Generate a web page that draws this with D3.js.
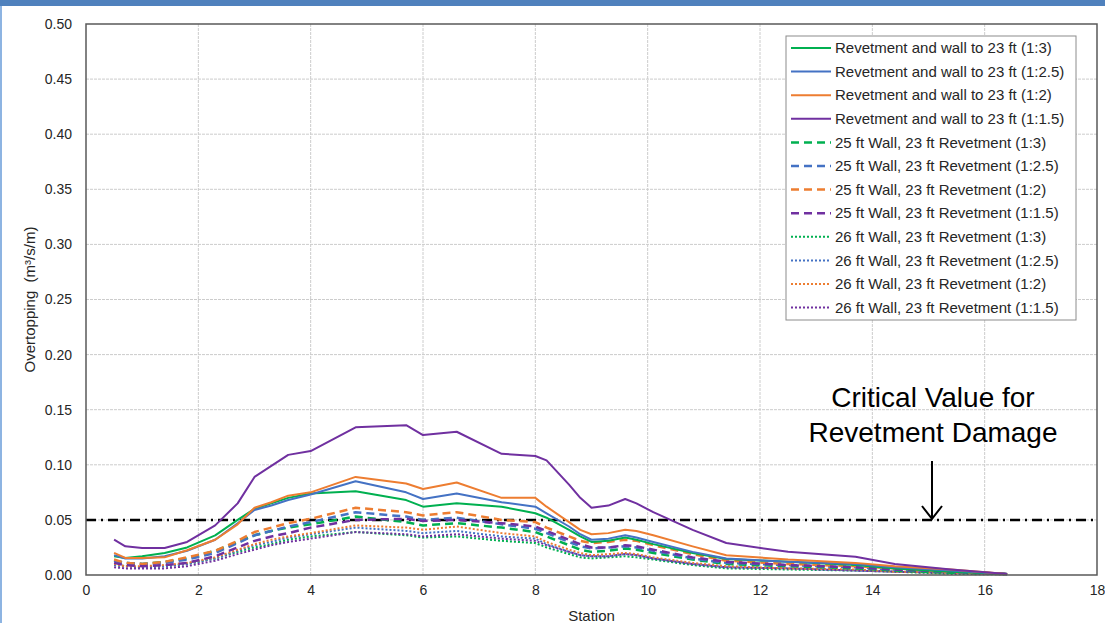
<!DOCTYPE html>
<html>
<head>
<meta charset="utf-8">
<script src="https://cdn.jsdelivr.net/npm/d3@7"></script>
<style>
  body { margin: 0; background: #fff; }
  svg { display: block; font-family: "Liberation Sans", Arial, sans-serif; }
</style>
</head>
<body>
<div class="chart"></div>
<script>
// Data
var stations = [0.5, 0.7, 1.0, 1.4, 1.8, 2.3, 2.7, 3.0, 3.3, 3.6, 4.0, 4.8, 5.7, 6.0, 6.6, 7.4,
  8.0, 8.2, 8.6, 8.8, 9.0, 9.3, 9.6, 9.8, 10.1, 10.8, 11.4, 12.5, 13.7, 14.4, 15.4, 16.4];

var seriesNames = [
  "Revetment and wall to 23 ft (1:3)",
  "Revetment and wall to 23 ft (1:2.5)",
  "Revetment and wall to 23 ft (1:2)",
  "Revetment and wall to 23 ft (1:1.5)",
  "25 ft Wall, 23 ft Revetment (1:3)",
  "25 ft Wall, 23 ft Revetment (1:2.5)",
  "25 ft Wall, 23 ft Revetment (1:2)",
  "25 ft Wall, 23 ft Revetment (1:1.5)",
  "26 ft Wall, 23 ft Revetment (1:3)",
  "26 ft Wall, 23 ft Revetment (1:2.5)",
  "26 ft Wall, 23 ft Revetment (1:2)",
  "26 ft Wall, 23 ft Revetment (1:1.5)"
];

var wall23_13 = [0.017, 0.0155, 0.017, 0.020, 0.025, 0.036, 0.050, 0.060, 0.065, 0.070, 0.074, 0.076, 0.068, 0.062, 0.065, 0.062,
  0.056, 0.052, 0.041, 0.035, 0.030, 0.031, 0.034, 0.032, 0.028, 0.020, 0.0145, 0.012, 0.009, 0.006, 0.003, 0.001];
var wall23_125 = [0.018, 0.015, 0.015, 0.017, 0.022, 0.032, 0.047, 0.059, 0.063, 0.068, 0.073, 0.085, 0.075, 0.069, 0.074, 0.066,
  0.062, 0.056, 0.044, 0.037, 0.032, 0.033, 0.036, 0.034, 0.030, 0.021, 0.015, 0.012, 0.010, 0.007, 0.004, 0.001];
var wall23_12 = [0.020, 0.0155, 0.0155, 0.016, 0.0225, 0.032, 0.046, 0.061, 0.066, 0.072, 0.075, 0.089, 0.083, 0.078, 0.084, 0.070,
  0.070, 0.062, 0.048, 0.041, 0.037, 0.038, 0.041, 0.040, 0.036, 0.026, 0.018, 0.014, 0.011, 0.008, 0.005, 0.001];
var wall23_115 = [0.032, 0.026, 0.0245, 0.0245, 0.030, 0.045, 0.065, 0.089, 0.099, 0.109, 0.1125, 0.134, 0.136, 0.127, 0.130, 0.110,
  0.108, 0.104, 0.082, 0.070, 0.061, 0.063, 0.069, 0.065, 0.057, 0.041, 0.029, 0.021, 0.0165, 0.010, 0.005, 0.001];

var wall25_13 = [0.013, 0.011, 0.010, 0.012, 0.015, 0.022, 0.030, 0.036, 0.040, 0.043, 0.046, 0.053, 0.048, 0.045, 0.047, 0.043,
  0.039, 0.035, 0.027, 0.023, 0.021, 0.022, 0.024, 0.023, 0.020, 0.014, 0.010, 0.008, 0.006, 0.004, 0.002, 0.001];
var wall25_125 = [0.013, 0.011, 0.010, 0.011, 0.014, 0.020, 0.029, 0.036, 0.040, 0.044, 0.048, 0.057, 0.053, 0.050, 0.052, 0.046,
  0.042, 0.038, 0.030, 0.026, 0.024, 0.025, 0.026, 0.025, 0.022, 0.015, 0.011, 0.009, 0.007, 0.005, 0.003, 0.001];
var wall25_12 = [0.014, 0.011, 0.010, 0.012, 0.016, 0.022, 0.031, 0.039, 0.043, 0.047, 0.051, 0.061, 0.057, 0.054, 0.057, 0.050,
  0.048, 0.043, 0.035, 0.031, 0.029, 0.030, 0.032, 0.031, 0.027, 0.019, 0.013, 0.010, 0.008, 0.006, 0.003, 0.001];
var wall25_115 = [0.011, 0.009, 0.008, 0.009, 0.011, 0.017, 0.025, 0.031, 0.035, 0.038, 0.043, 0.050, 0.051, 0.049, 0.050, 0.047,
  0.044, 0.040, 0.032, 0.028, 0.025, 0.025, 0.027, 0.026, 0.023, 0.016, 0.012, 0.009, 0.007, 0.005, 0.003, 0.001];

var wall26_13 = [0.009, 0.008, 0.007, 0.008, 0.010, 0.015, 0.021, 0.025, 0.028, 0.032, 0.035, 0.039, 0.036, 0.034, 0.035, 0.031,
  0.029, 0.025, 0.019, 0.016, 0.015, 0.016, 0.017, 0.016, 0.014, 0.009, 0.006, 0.005, 0.004, 0.003, 0.001, 0.0005];
var wall26_125 = [0.009, 0.008, 0.007, 0.008, 0.010, 0.015, 0.022, 0.027, 0.030, 0.034, 0.037, 0.043, 0.040, 0.038, 0.040, 0.035,
  0.033, 0.028, 0.021, 0.018, 0.017, 0.017, 0.019, 0.018, 0.015, 0.010, 0.007, 0.006, 0.004, 0.003, 0.002, 0.0005];
var wall26_12 = [0.010, 0.008, 0.008, 0.009, 0.011, 0.016, 0.023, 0.028, 0.032, 0.035, 0.038, 0.045, 0.043, 0.041, 0.044, 0.038,
  0.035, 0.030, 0.023, 0.020, 0.018, 0.019, 0.020, 0.019, 0.016, 0.011, 0.008, 0.006, 0.005, 0.003, 0.002, 0.0005];
var wall26_115 = [0.007, 0.006, 0.006, 0.006, 0.008, 0.013, 0.019, 0.023, 0.027, 0.030, 0.033, 0.039, 0.037, 0.035, 0.037, 0.033,
  0.031, 0.027, 0.021, 0.018, 0.017, 0.017, 0.019, 0.018, 0.015, 0.010, 0.007, 0.006, 0.004, 0.003, 0.002, 0.0005];

var seriesValues = [wall23_13, wall23_125, wall23_12, wall23_115,
  wall25_13, wall25_125, wall25_12, wall25_115,
  wall26_13, wall26_125, wall26_12, wall26_115];

var xTicks = [0, 2, 4, 6, 8, 10, 12, 14, 16, 18];
var yTicks = [0, 0.05, 0.10, 0.15, 0.20, 0.25, 0.30, 0.35, 0.40, 0.45, 0.50];
var criticalValue = 0.05;

// Layout
var width = 1105, height = 623;
var plot = { left: 86, right: 1097, top: 24, bottom: 575 };

var slopeColors = ["#00B050", "#4472C4", "#ED7D31", "#7030A0"];
var styles = [
  { dash: null, w: 2 },
  { dash: "8,5", w: 2.5 },
  { dash: "2,2", w: 2 }
];

var svg = d3.select(".chart").append("svg")
  .attr("width", width)
  .attr("height", height);

// Slide frame bits
svg.append("rect").attr("x", 0).attr("y", 0).attr("width", width).attr("height", 6).attr("fill", "#4F81BD");
svg.append("rect").attr("x", 0).attr("y", 6).attr("width", 2).attr("height", height - 6).attr("fill", "#8DB4E2");

var x = d3.scaleLinear().domain([0, 18]).range([plot.left, plot.right]);
var y = d3.scaleLinear().domain([0, 0.5]).range([plot.bottom, plot.top]);

// Gridlines
svg.append("g").selectAll("line")
  .data(xTicks.slice(1, -1))
  .enter().append("line")
  .attr("x1", function (d) { return x(d); })
  .attr("x2", function (d) { return x(d); })
  .attr("y1", plot.top)
  .attr("y2", plot.bottom)
  .attr("stroke", "#cccccc")
  .attr("stroke-dasharray", "3,1")
  .attr("stroke-width", 1);

svg.append("g").selectAll("line")
  .data(yTicks.slice(1, -1))
  .enter().append("line")
  .attr("x1", plot.left)
  .attr("x2", plot.right)
  .attr("y1", function (d) { return y(d); })
  .attr("y2", function (d) { return y(d); })
  .attr("stroke", "#cccccc")
  .attr("stroke-dasharray", "3,1")
  .attr("stroke-width", 1);

// Axes
var xAxis = svg.append("g")
  .attr("transform", "translate(0," + plot.bottom + ")")
  .call(d3.axisBottom(x).tickValues(xTicks).tickSize(0).tickPadding(10));
var yAxis = svg.append("g")
  .attr("transform", "translate(" + plot.left + ",0)")
  .call(d3.axisLeft(y).tickValues(yTicks).tickSize(0).tickPadding(14).tickFormat(d3.format(".2f")));
[xAxis, yAxis].forEach(function (a) {
  a.select(".domain").remove();
  a.selectAll("text")
    .style("font-family", "'Liberation Sans', Arial, sans-serif")
    .style("font-size", "14px")
    .attr("fill", "#262626");
});

// Critical value line
svg.append("line")
  .attr("x1", plot.left)
  .attr("x2", plot.right)
  .attr("y1", y(criticalValue))
  .attr("y2", y(criticalValue))
  .attr("stroke", "#000")
  .attr("stroke-width", 2.5)
  .attr("stroke-dasharray", "10,5,2,5");

// Series lines
var line = d3.line()
  .x(function (d, i) { return x(stations[i]); })
  .y(function (d) { return y(d); });

var order = [8, 9, 10, 11, 4, 5, 6, 7, 0, 1, 2, 3];
svg.append("g").selectAll("path")
  .data(order)
  .enter().append("path")
  .attr("d", function (k) { return line(seriesValues[k]); })
  .attr("fill", "none")
  .attr("stroke", function (k) { return slopeColors[k % 4]; })
  .attr("stroke-width", function (k) { return styles[Math.floor(k / 4)].w; })
  .attr("stroke-dasharray", function (k) { return styles[Math.floor(k / 4)].dash; })
  .attr("stroke-linejoin", "round");

// Plot border
svg.append("rect")
  .attr("x", plot.left)
  .attr("y", plot.top)
  .attr("width", plot.right - plot.left)
  .attr("height", plot.bottom - plot.top)
  .attr("fill", "none")
  .attr("stroke", "#595959")
  .attr("stroke-width", 1.5);

// Axis titles
svg.append("text")
  .attr("x", (plot.left + plot.right) / 2)
  .attr("y", 621)
  .attr("text-anchor", "middle")
  .style("font-size", "15px")
  .attr("fill", "#262626")
  .text("Station");

svg.append("text")
  .attr("transform", "translate(35," + ((plot.top + plot.bottom) / 2) + ") rotate(-90)")
  .attr("text-anchor", "middle")
  .style("font-size", "15px")
  .attr("fill", "#262626")
  .text("Overtopping\u00a0 (m³/s/m)");

// Legend
var legend = svg.append("g").attr("transform", "translate(786,36)");
legend.append("rect")
  .attr("width", 290)
  .attr("height", 284)
  .attr("fill", "#fff")
  .attr("stroke", "#8c8c8c")
  .attr("stroke-width", 1);

var rows = legend.selectAll(".row")
  .data(seriesNames)
  .enter().append("g")
  .attr("class", "row")
  .attr("transform", function (d, i) { return "translate(0," + (12 + i * 23.6) + ")"; });

rows.append("line")
  .attr("x1", 5)
  .attr("x2", 45)
  .attr("stroke", function (d, i) { return slopeColors[i % 4]; })
  .attr("stroke-width", function (d, i) { return styles[Math.floor(i / 4)].w; })
  .attr("stroke-dasharray", function (d, i) { return styles[Math.floor(i / 4)].dash; });

rows.append("text")
  .attr("x", 49)
  .attr("dy", "0.35em")
  .style("font-size", "15px")
  .attr("fill", "#262626")
  .text(function (d) { return d; });

// Annotation
var note = svg.append("g");
note.append("text")
  .attr("x", 933)
  .attr("y", 407)
  .attr("text-anchor", "middle")
  .style("font-size", "28px")
  .attr("fill", "#000")
  .text("Critical Value for");
note.append("text")
  .attr("x", 933)
  .attr("y", 442)
  .attr("text-anchor", "middle")
  .style("font-size", "28px")
  .attr("fill", "#000")
  .text("Revetment Damage");
note.append("line")
  .attr("x1", 932).attr("x2", 932)
  .attr("y1", 461).attr("y2", y(criticalValue) - 1)
  .attr("stroke", "#000").attr("stroke-width", 2);
note.append("path")
  .attr("d", "M922,506 L932," + (y(criticalValue) - 1) + " L942,506")
  .attr("fill", "none")
  .attr("stroke", "#000")
  .attr("stroke-width", 2);
</script>
</body>
</html>
